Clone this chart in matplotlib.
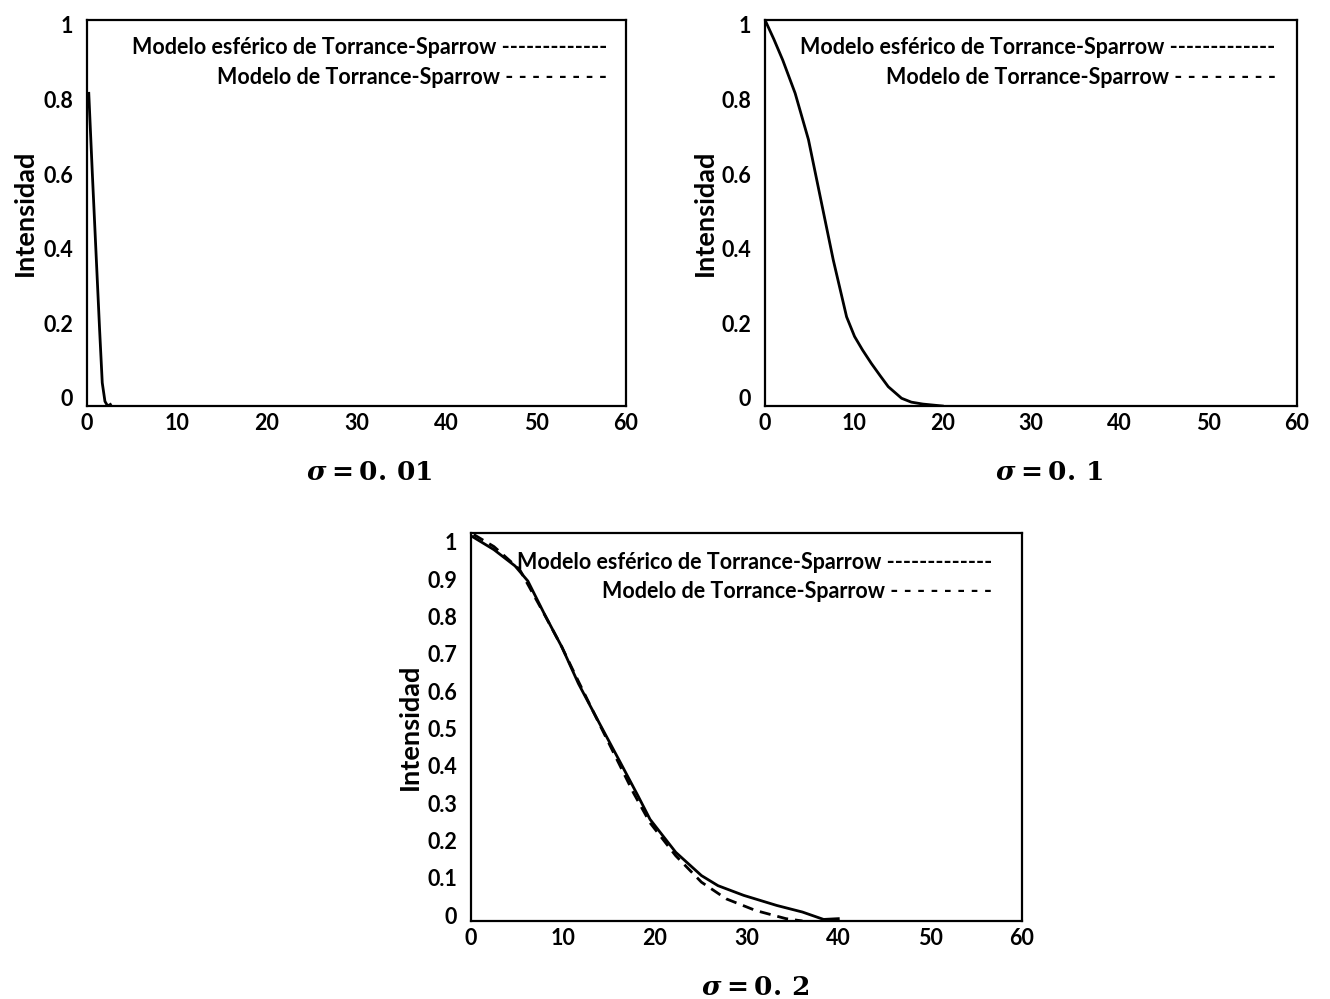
import matplotlib
matplotlib.use("Agg")
import matplotlib.pyplot as plt
from matplotlib.transforms import ScaledTranslation

plt.rcParams["font.family"] = ["Lato", "DejaVu Sans"]
plt.rcParams["font.weight"] = "bold"
plt.rcParams["mathtext.fontset"] = "custom"
plt.rcParams["mathtext.it"] = "DejaVu Serif:italic:bold"
plt.rcParams["mathtext.rm"] = "DejaVu Serif:bold"
plt.rcParams["mathtext.bf"] = "DejaVu Serif:bold"

# sigma = 0.01 (spherical Torrance-Sparrow)
ang_001 = [0.2, 0.6, 1.0, 1.4, 1.7, 2.0, 2.3, 2.6]
int_001 = [0.81, 0.60, 0.40, 0.20, 0.06, 0.012, 0.0, 0.004]

# sigma = 0.1
ang_01 = [0, 1.0, 2.0, 3.4, 4.9, 6.3, 7.7, 9.2, 10.1, 11.0, 12.0, 13.0, 13.9, 15.4,
          16.5, 17.8, 20.0]
int_01 = [1.0, 0.95, 0.896, 0.81, 0.69, 0.534, 0.378, 0.231, 0.18, 0.145, 0.11, 0.078,
          0.05, 0.02, 0.01, 0.005, 0.0]

# sigma = 0.2
ang_02_sph = [0.2, 2.5, 4.8, 6.2, 8.0, 9.9, 11.7, 14.0, 16.3, 18.2, 19.5, 22.3,
              25.1, 26.9, 29.7, 33.3, 36.1, 38.4, 40.0]
int_02_sph = [0.99, 0.957, 0.915, 0.876, 0.791, 0.706, 0.612, 0.509, 0.407, 0.322,
              0.262, 0.177, 0.117, 0.091, 0.066, 0.040, 0.023, 0.004, 0.006]
ang_02_ts = [0.3, 2.5, 5.3, 8.0, 9.9, 11.3, 13.6, 15.9, 17.7, 19.5, 22.3, 25.1,
             27.8, 31.0, 34.3, 36.1]
int_02_ts = [0.996, 0.965, 0.906, 0.79, 0.706, 0.637, 0.526, 0.416, 0.330, 0.253,
             0.168, 0.100, 0.057, 0.027, 0.006, 0.0]

legend_lines = ["Modelo esférico de Torrance-Sparrow -------------",
                "Modelo de Torrance-Sparrow - - - - - - - -"]
sigma_labels = [r"$\sigma = 0.\,01$", r"$\sigma = 0.\,1$", r"$\sigma = 0.\,2$"]

fig = plt.figure(figsize=(13.3, 9.99), dpi=100)
ax1 = fig.add_axes([0.0654, 0.5936, 0.4053, 0.3864])
ax2 = fig.add_axes([0.5752, 0.5936, 0.4000, 0.3864])
ax3 = fig.add_axes([0.3541, 0.0781, 0.4143, 0.3884])


def style(ax, yticks, ylabels, top_off, bot_off, label_x):
    ax.set_xlim(0, 60)
    ax.set_ylim(0, 1)
    ax.set_xticks(range(0, 61, 10))
    ax.set_yticks(yticks)
    ax.set_yticklabels(ylabels)
    ax.tick_params(length=0, labelsize=15.5)
    ax.tick_params(axis="x", pad=5)
    ax.tick_params(axis="y", pad=10)
    for sp in ax.spines.values():
        sp.set_linewidth(1.6)
    # labels sit slightly inside the frame, as in the original
    for v, lab in zip(yticks, ax.get_yticklabels()):
        dy = (bot_off * (1 - v) - top_off * v) / 72
        lab.set_transform(lab.get_transform() + ScaledTranslation(0, dy, fig.dpi_scale_trans))
    ax.set_ylabel("Intensidad", fontsize=19.5, fontweight="bold", va="center")
    ax.yaxis.set_label_coords(label_x, 0.5)


def legend_text(ax, xr, y1, y2):
    ax.text(xr, y1, legend_lines[0], transform=ax.transAxes, ha="right", va="center",
            fontsize=15.5, fontweight="bold")
    ax.text(xr, y2, legend_lines[1], transform=ax.transAxes, ha="right", va="center",
            fontsize=15.5, fontweight="bold")


ax1.plot(ang_001, int_001, color="black", lw=2)
style(ax1, [0, 0.2, 0.4, 0.6, 0.8, 1], ["0", "0.2", "0.4", "0.6", "0.8", "1"], 3.6, 5.8, -0.115)
legend_text(ax1, 0.965, 0.930, 0.852)

ax2.plot(ang_01, int_01, color="black", lw=2)
style(ax2, [0, 0.2, 0.4, 0.6, 0.8, 1], ["0", "0.2", "0.4", "0.6", "0.8", "1"], 3.6, 5.8, -0.113)
legend_text(ax2, 0.96, 0.930, 0.852)

ax3.plot(ang_02_ts, int_02_ts, color="black", lw=2, dashes=(4, 2.5))
ax3.plot(ang_02_sph, int_02_sph, color="black", lw=2)
yt3 = [i / 10 for i in range(11)]
style(ax3, yt3, ["0"] + ["%.1f" % v for v in yt3[1:-1]] + ["1"], 6.5, 4.3, -0.11)
legend_text(ax3, 0.946, 0.923, 0.848)

fig.text(369 / 1330, 1 - 472 / 999, sigma_labels[0], ha="center", va="center", fontsize=19)
fig.text(1049 / 1330, 1 - 472 / 999, sigma_labels[1], ha="center", va="center", fontsize=19)
fig.text(755 / 1330, 1 - 987 / 999, sigma_labels[2], ha="center", va="center", fontsize=19)

fig.savefig("out.png", dpi=100)
